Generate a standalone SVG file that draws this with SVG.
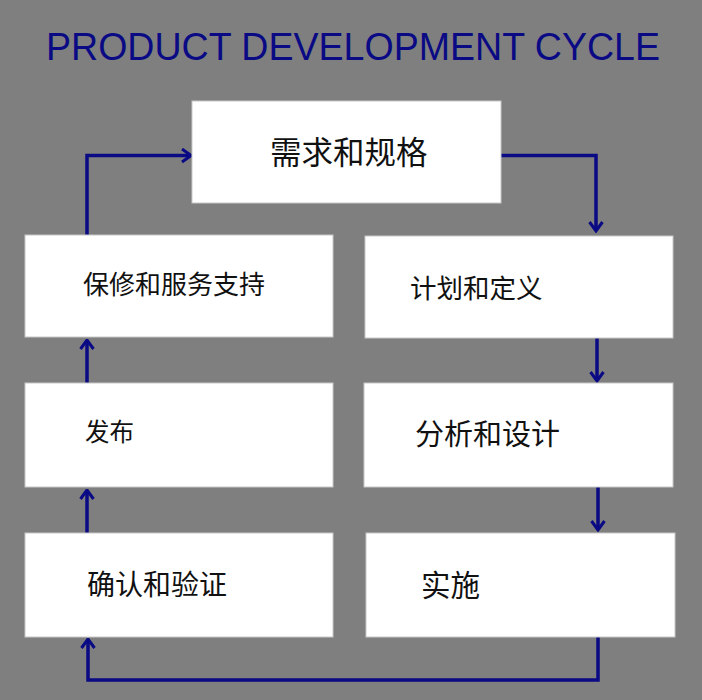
<svg xmlns="http://www.w3.org/2000/svg" width="702" height="700" viewBox="0 0 702 700">
<defs>
<style>
.box{fill:#ffffff;stroke:#c8c8c8;stroke-width:1}
.lbl{font-family:"Noto Sans CJK SC","Noto Sans CJK JP",sans-serif;fill:#111111}
.title{font-family:"Liberation Sans",Arial,sans-serif;font-size:38px;fill:#0a0a84}
.conn{fill:none;stroke:#0a0a84;stroke-width:3.5;stroke-linejoin:miter}
</style>
<marker id="arr" viewBox="0 0 12 16" refX="10.5" refY="8" markerWidth="12" markerHeight="16" markerUnits="userSpaceOnUse" orient="auto">
<path d="M1.5,1.5 L10.5,8 L1.5,14.5" fill="none" stroke="#0a0a84" stroke-width="3"/>
</marker>
</defs>
<rect width="702" height="700" fill="#7f7f7f"/>
<text class="title" x="46" y="60" textLength="614" lengthAdjust="spacingAndGlyphs">PRODUCT DEVELOPMENT CYCLE</text>
<g id="connectors">
<path class="conn" d="M87,236 L87,155.5 L191,155.5" marker-end="url(#arr)"/>
<path class="conn" d="M501,155.5 L596,155.5 L596,231" marker-end="url(#arr)"/>
<path class="conn" d="M597,338 L597,381" marker-end="url(#arr)"/>
<path class="conn" d="M598,487 L598,530" marker-end="url(#arr)"/>
<path class="conn" d="M598,637 L598,680 L88,680 L88,639" marker-end="url(#arr)"/>
<path class="conn" d="M87,534 L87,490" marker-end="url(#arr)"/>
<path class="conn" d="M87,384 L87,340" marker-end="url(#arr)"/>
</g>
<g id="n1"><rect class="box" x="192" y="101" width="309" height="102"/><text class="lbl" x="270" y="164" font-size="31.5">需求和规格</text></g>
<g id="n2"><rect class="box" x="365" y="236" width="308" height="102"/><text class="lbl" x="410" y="298" font-size="26.5">计划和定义</text></g>
<g id="n3"><rect class="box" x="364" y="383" width="309" height="104"/><text class="lbl" x="415" y="445" font-size="29">分析和设计</text></g>
<g id="n4"><rect class="box" x="366" y="533" width="309" height="104"/><text class="lbl" x="421" y="596" font-size="29.5">实施</text></g>
<g id="n5"><rect class="box" x="25" y="533" width="308" height="104"/><text class="lbl" x="87" y="595" font-size="28">确认和验证</text></g>
<g id="n6"><rect class="box" x="25" y="383" width="308" height="104"/><text class="lbl" x="85" y="441" font-size="24.5">发布</text></g>
<g id="n7"><rect class="box" x="25" y="235" width="308" height="102"/><text class="lbl" x="83" y="294" font-size="26">保修和服务支持</text></g>
</svg>
